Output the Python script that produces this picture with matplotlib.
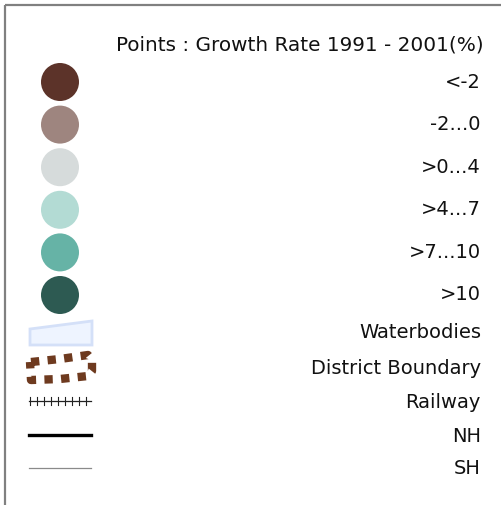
import matplotlib.pyplot as plt
from matplotlib.patches import Circle, Polygon

# legend content
title = 'Points : Growth Rate 1991 - 2001(%)'
classes = ['<-2', '-2...0', '>0...4', '>4...7', '>7...10', '>10']
class_colors = ['#5c3329', '#9e857f', '#d6dbdb', '#b3dbd4', '#66b3a6', '#2d5a52']
line_items = ['Waterbodies', 'District Boundary', 'Railway', 'NH', 'SH']

W, H = 501, 505
fig = plt.figure(figsize=(W / 100, H / 100), dpi=100)
ax = fig.add_axes([0, 0, 1, 1])
ax.set_xlim(0, W)
ax.set_ylim(H, 0)
ax.axis('off')

# frame (top and left edges)
ax.plot([5, W], [5, 5], color='#808080', lw=1.6, solid_capstyle='butt')
ax.plot([5, 5], [5, H], color='#808080', lw=1.6, solid_capstyle='butt')

fs = 14
txt_x = 481
ax.text(484, 45, title, ha='right', va='center', fontsize=14.4, color='#111111')

# circle symbols
y0, dy = 82, 42.6
for i, (lab, c) in enumerate(zip(classes, class_colors)):
    y = y0 + i * dy
    ax.add_patch(Circle((60, y), 19, facecolor=c, edgecolor='none'))
    ax.text(txt_x, y, lab, ha='right', va='center', fontsize=fs, color='#111111')

# line / area symbols
label_y = [333, 369, 403, 436, 469]
for lab, y in zip(line_items, label_y):
    ax.text(txt_x, y, lab, ha='right', va='center', fontsize=fs, color='#111111')

# waterbodies
ax.add_patch(Polygon([(30, 329), (92, 321), (92, 345), (30, 345)], closed=True,
                     facecolor='#eef4ff', edgecolor='#d4e0f8', lw=2))

# district boundary
bx = [31, 60, 88, 92, 92, 88, 60, 31, 30]
by = [362, 359, 355, 360, 371, 376, 379, 380, 362]
ax.plot(bx, by, color='#6e3a1f', lw=6, linestyle=(0, (1.0, 1.0)),
        solid_capstyle='butt', dash_capstyle='butt')

# railway
ax.plot([29, 91], [401, 401], color='#222222', lw=0.9)
for tx in range(30, 92, 7):
    ax.plot([tx, tx], [397, 405], color='#222222', lw=0.8)

# NH and SH
ax.plot([29, 91], [435, 435], color='black', lw=2.4)
ax.plot([29, 91], [468, 468], color='#8a8a8a', lw=0.9)

fig.savefig('out.png', dpi=100)
